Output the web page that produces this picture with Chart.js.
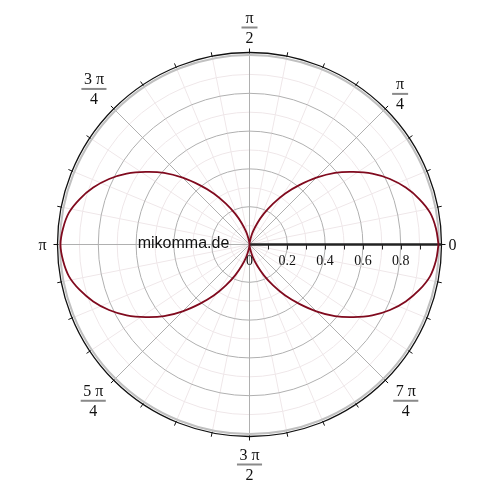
<!DOCTYPE html>
<html>
<head>
<meta charset="utf-8">
<script src="https://cdn.jsdelivr.net/npm/chart.js@4"></script>
<style>
html,body{margin:0;padding:0;background:#fff;}
#wrap{width:500px;height:500px;}
</style>
</head>
<body>
<div id="wrap"><canvas id="c" width="500" height="500"></canvas></div>
<script>
// Angles in degrees of the read points
const angleDeg = [0,5,10,15,20,25,30,35,40,45,50,55,60,65,70,75,80,85,90,
  95,100,105,110,115,120,125,130,135,140,145,150,155,160,165,170,175,180,
  185,190,195,200,205,210,215,220,225,230,235,240,245,250,255,260,265,270,
  275,280,285,290,295,300,305,310,315,320,325,330,335,340,345,350,355,360];
// Radius at each angle
const radius = [1.00,0.99,0.97,0.93,0.88,0.82,0.75,0.67,0.59,0.50,0.41,0.33,0.25,0.18,0.12,0.07,0.03,0.008,0.00,
  0.008,0.03,0.07,0.12,0.18,0.25,0.33,0.41,0.50,0.59,0.67,0.75,0.82,0.88,0.93,0.97,0.99,1.00,
  0.99,0.97,0.93,0.88,0.82,0.75,0.67,0.59,0.50,0.41,0.33,0.25,0.18,0.12,0.07,0.03,0.008,0.00,
  0.008,0.03,0.07,0.12,0.18,0.25,0.33,0.41,0.50,0.59,0.67,0.75,0.82,0.88,0.93,0.97,0.99,1.00];
// Radial tick labels
const radialTicks = [0,0.2,0.4,0.6,0.8];
const radialTickLabels = ["0","0.2","0.4","0.6","0.8"];
// Angular labels (numerator / denominator)
const angleLabelDeg = [0,45,90,135,180,225,270,315];
const angleLabelNum = ["0","π","π","3 π","π","5 π","3 π","7 π"];
const angleLabelDen = ["","4","2","4","","4","2","4"];
const watermark = "mikomma.de";

const pts = angleDeg.map((d,i)=>{
  const t = d*Math.PI/180;
  return {x: radius[i]*Math.cos(t), y: radius[i]*Math.sin(t)};
});

const UNIT = 189; // px per unit
const CX = 249.5, CY = 244.5;
const W = 500;
const xmin = -CX/UNIT, xmax = xmin + W/UNIT;
const ymax = CY/UNIT, ymin = ymax - W/UNIT;
// label distance from centre (px) per angle label
const labelDist = [203, 213, 217, 220, 207, 221, 220, 221];

const polarGrid = {
  id:'polarGrid',
  beforeDatasetsDraw(chart){
    const {ctx, scales:{x,y}} = chart;
    const cx = x.getPixelForValue(0), cy = y.getPixelForValue(0);
    const u = x.getPixelForValue(1) - cx;
    ctx.save();
    ctx.lineWidth = 1;
    ctx.strokeStyle = '#efe7e9';
    for (let k=1;k<10;k+=2){
      ctx.beginPath(); ctx.arc(cx,cy,k*0.1*u,0,2*Math.PI); ctx.stroke();
    }
    for (let k=0;k<32;k++){
      if (k%4===0) continue;
      const t = k*Math.PI/16;
      ctx.beginPath(); ctx.moveTo(cx,cy);
      ctx.lineTo(cx+u*Math.cos(t), cy-u*Math.sin(t)); ctx.stroke();
    }
    ctx.strokeStyle = '#b0b0b0';
    for (let k=2;k<10;k+=2){
      ctx.beginPath(); ctx.arc(cx,cy,k*0.1*u,0,2*Math.PI); ctx.stroke();
    }
    for (let k=0;k<8;k++){
      const t = k*Math.PI/4;
      ctx.beginPath(); ctx.moveTo(cx,cy);
      ctx.lineTo(cx+u*Math.cos(t), cy-u*Math.sin(t)); ctx.stroke();
    }
    ctx.lineWidth = 2;
    ctx.strokeStyle = '#c0c0c0';
    ctx.beginPath(); ctx.arc(cx,cy,u+0.6,0,2*Math.PI); ctx.stroke();
    const R = u+3;
    ctx.lineWidth = 1.3;
    ctx.strokeStyle = '#111';
    ctx.beginPath(); ctx.arc(cx,cy,R,0,2*Math.PI); ctx.stroke();
    ctx.lineWidth = 1;
    for (let k=0;k<32;k++){
      const t = k*Math.PI/16;
      ctx.beginPath();
      ctx.moveTo(cx+(R-1)*Math.cos(t), cy-(R-1)*Math.sin(t));
      ctx.lineTo(cx+(R+4)*Math.cos(t), cy-(R+4)*Math.sin(t));
      ctx.stroke();
    }
    ctx.strokeStyle = '#222';
    ctx.lineWidth = 2.5;
    ctx.beginPath(); ctx.moveTo(cx,cy); ctx.lineTo(cx+R,cy); ctx.stroke();
    ctx.lineWidth = 1;
    for (let k=1;k<10;k++){
      const px = Math.round(cx+k*0.1*u)+0.5;
      ctx.beginPath(); ctx.moveTo(px,cy); ctx.lineTo(px,cy+5); ctx.stroke();
    }
    ctx.restore();
  },
  afterDatasetsDraw(chart){
    const {ctx, scales:{x,y}} = chart;
    const cx = x.getPixelForValue(0), cy = y.getPixelForValue(0);
    ctx.save();
    ctx.fillStyle = '#111';
    ctx.font = '14px "Liberation Serif", "DejaVu Serif", serif';
    ctx.textAlign = 'center';
    ctx.textBaseline = 'middle';
    radialTicks.forEach((v,i)=>{
      ctx.fillText(radialTickLabels[i], x.getPixelForValue(v), cy+17);
    });
    ctx.font = '16px "Liberation Serif", "DejaVu Serif", serif';
    angleLabelDeg.forEach((deg,i)=>{
      const t = deg*Math.PI/180;
      const d = labelDist[i];
      const px = cx + d*Math.cos(t), py = cy - d*Math.sin(t);
      const num = angleLabelNum[i], den = angleLabelDen[i];
      ctx.fillStyle = '#111';
      if (!den){ ctx.fillText(num, px, py+1); return; }
      const wNum = ctx.measureText(num).width;
      const barW = Math.max(wNum + 5, 16);
      ctx.fillText(num, px, py-9);
      ctx.fillText(den, px, py+11);
      ctx.fillStyle = '#8a8a8a';
      ctx.fillRect(px-barW/2, py-1, barW, 2);
    });
    ctx.fillStyle = '#111';
    ctx.font = '16px "Liberation Sans", Arial, sans-serif';
    ctx.textAlign = 'center';
    ctx.fillText(watermark, 183.5, 244);
    ctx.restore();
  }
};

new Chart(document.getElementById('c'), {
  type:'scatter',
  data:{datasets:[{
    data: pts,
    showLine:true,
    borderColor:'#800a1e',
    borderWidth:1.8,
    pointRadius:0,
    tension:0.4,
    fill:false
  }]},
  options:{
    responsive:false,
    animation:false,
    layout:{padding:0},
    plugins:{legend:{display:false}, tooltip:{enabled:false}},
    scales:{
      x:{type:'linear', min:xmin, max:xmax, display:false},
      y:{type:'linear', min:ymin, max:ymax, display:false}
    }
  },
  plugins:[polarGrid]
});
</script>
</body>
</html>
